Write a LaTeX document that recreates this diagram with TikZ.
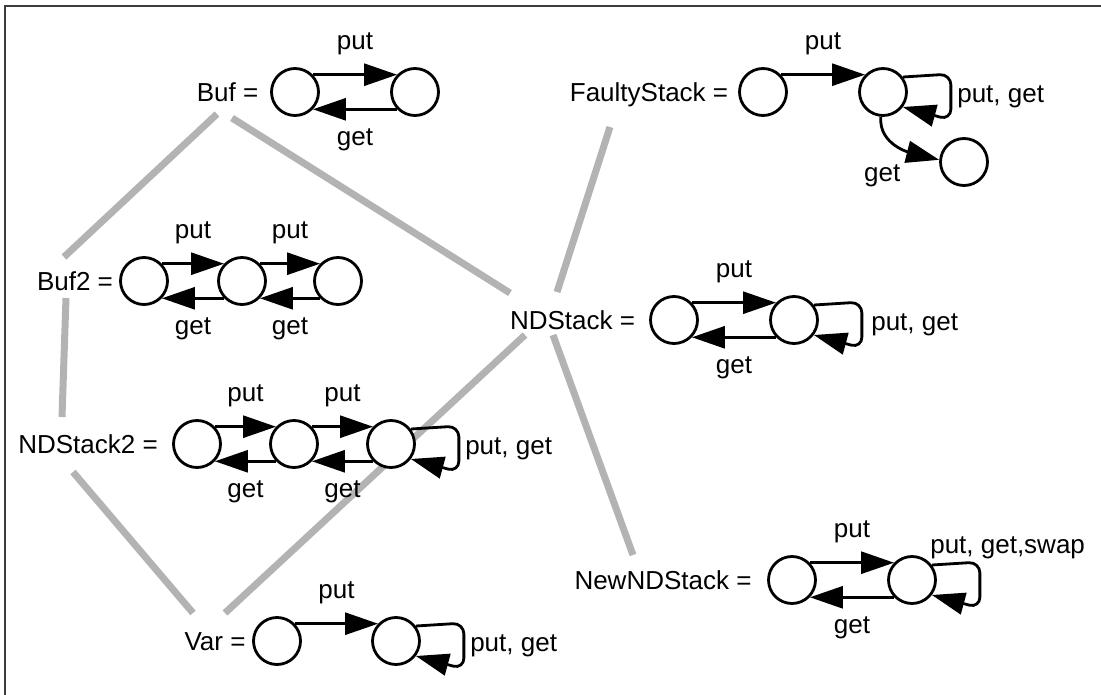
\documentclass[tikz,border=0pt]{standalone}
\usepackage{fontspec}
\setmainfont{Liberation Sans}
\usetikzlibrary{arrows.meta,positioning}
\definecolor{latticegray}{RGB}{179,179,179}
\definecolor{framegray}{RGB}{60,60,60}

\begin{document}
\begin{tikzpicture}[
  x = 1pt,
  y = -1pt,
  state/.style = {
    shape = circle,
    draw,
    fill = white,
    line width = 2.8pt,
    minimum size = 47pt,
    inner sep = 0pt,
  },
  eqn/.style = {
    font = \fontsize{26}{31}\selectfont,
    inner sep = 0pt,
    text height = 18.6pt,
    text depth = 0pt,
  },
  lbl/.style = {
    font = \fontsize{26}{31}\selectfont,
    inner sep = 0pt,
  },
  trans/.style = {
    line width = 2.8pt,
    -{Triangle[length=33pt, width=22pt]},
  },
  selfloop/.style = {
    trans,
    rounded corners = 11pt,
  },
  order/.style = {
    line width = 7pt,
    color = latticegray,
  },
]
  \useasboundingbox (0,0) rectangle (1101,695);
  \draw[framegray, line width=2pt] (5,695) -- (5,6) -- (1101,6);

  % refinement order
  \coordinate (buf-l) at (217,114);
  \coordinate (buf-r) at (232,118);
  \coordinate (buftwo-t) at (64,257);
  \coordinate (buftwo-b) at (66,298);
  \coordinate (ndstwo-t) at (62,417);
  \coordinate (ndstwo-b) at (73,472);
  \coordinate (var-l) at (193,613);
  \coordinate (var-r) at (225,613);
  \coordinate (nds-tl) at (510,293);
  \coordinate (nds-t) at (557,292);
  \coordinate (nds-bl) at (525,335);
  \coordinate (nds-br) at (553,335);
  \coordinate (faulty-b) at (610,127);
  \coordinate (newnds-t) at (633,555);

  \draw[order] (buf-l) -- (buftwo-t);
  \draw[order] (buf-r) -- (nds-tl);
  \draw[order] (buftwo-b) -- (ndstwo-t);
  \draw[order] (ndstwo-b) -- (var-l);
  \draw[order] (var-r) -- (nds-bl);
  \draw[order] (faulty-b) -- (nds-t);
  \draw[order] (nds-br) -- (newnds-t);

  % Buf
  \node[eqn] (Buf) at (227.5,92) {Buf =};
  \node[state] (b1) at (295,92) {};
  \node[state] (b2) at (415,92) {};
  \draw[trans] (b1.44) -- (b2.136) node[lbl, midway, above=18pt] {put};
  \draw[trans] (b2.-136) -- (b1.-44) node[lbl, midway, below=18pt] {get};

  % Buf2
  \node[eqn] (Buf2) at (75,281) {Buf2 =};
  \node[state] (bb1) at (144,281) {};
  \node[state] (bb2) at (242,281) {};
  \node[state] (bb3) at (338,281) {};
  \draw[trans] (bb1.44) -- (bb2.136) node[lbl, midway, above=18pt] {put};
  \draw[trans] (bb2.44) -- (bb3.136) node[lbl, midway, above=18pt] {put};
  \draw[trans] (bb2.-136) -- (bb1.-44) node[lbl, midway, below=18pt] {get};
  \draw[trans] (bb3.-136) -- (bb2.-44) node[lbl, midway, below=18pt] {get};

  % NDStack2
  \node[eqn] (NDStack2) at (88,444) {NDStack2 =};
  \node[state] (ns1) at (197,444) {};
  \node[state] (ns2) at (294,444) {};
  \node[state] (ns3) at (391,444) {};
  \draw[trans] (ns1.44) -- (ns2.136) node[lbl, midway, above=18pt] {put};
  \draw[trans] (ns2.44) -- (ns3.136) node[lbl, midway, above=18pt] {put};
  \draw[trans] (ns2.-136) -- (ns1.-44) node[lbl, midway, below=18pt] {get};
  \draw[trans] (ns3.-136) -- (ns2.-44) node[lbl, midway, below=18pt] {get};
  \draw[selfloop] (ns3.37) -- ++(48,-3) -- ++(0,46)
    node[lbl, midway, right=5pt] {put, get} -- (ns3.-37);

  % Var
  \node[eqn] (Var) at (215,641) {Var =};
  \node[state] (v1) at (277,641) {};
  \node[state] (v2) at (396,641) {};
  \draw[trans] (v1.44) -- (v2.136) node[lbl, midway, above=18pt] {put};
  \draw[selfloop] (v2.37) -- ++(48,-3) -- ++(0,46)
    node[lbl, midway, right=5pt] {put, get} -- (v2.-37);

  % FaultyStack
  \node[eqn] (FaultyStack) at (649,92) {FaultyStack =};
  \node[state] (f1) at (763,92) {};
  \node[state] (f2) at (883,92) {};
  \node[state] (f3) at (964,162) {};
  \draw[trans] (f1.44) -- (f2.136) node[lbl, midway, above=18pt] {put};
  \draw[selfloop] (f2.37) -- ++(48,-3) -- ++(0,46)
    node[lbl, midway, right=5pt] {put, get} -- (f2.-37);
  \draw[trans] (f2.-95) to[out=-95, in=166]
    node[lbl, below left=17pt and -3pt] {get} (f3.175);

  % NDStack
  \node[eqn] (NDStack) at (572.5,320) {NDStack =};
  \node[state] (n1) at (674,320) {};
  \node[state] (n2) at (794,320) {};
  \draw[trans] (n1.44) -- (n2.136) node[lbl, midway, above=18pt] {put};
  \draw[trans] (n2.-136) -- (n1.-44) node[lbl, midway, below=18pt] {get};
  \draw[selfloop] (n2.37) -- ++(48,-3) -- ++(0,46)
    node[lbl, midway, right=8pt] {put, get} -- (n2.-37);

  % NewNDStack
  \node[eqn] (NewNDStack) at (663,580) {NewNDStack =};
  \node[state] (nn1) at (792,580) {};
  \node[state] (nn2) at (912,580) {};
  \draw[trans] (nn1.44) -- (nn2.136) node[lbl, midway, above=18pt] {put};
  \draw[trans] (nn2.-136) -- (nn1.-44) node[lbl, midway, below=18pt] {get};
  \draw[selfloop] (nn2.37)
    node[lbl, anchor=south west, xshift=-3pt, yshift=5pt] {put, get,swap}
    -- ++(48,-3) -- ++(0,46) -- (nn2.-37);
\end{tikzpicture}
\end{document}
